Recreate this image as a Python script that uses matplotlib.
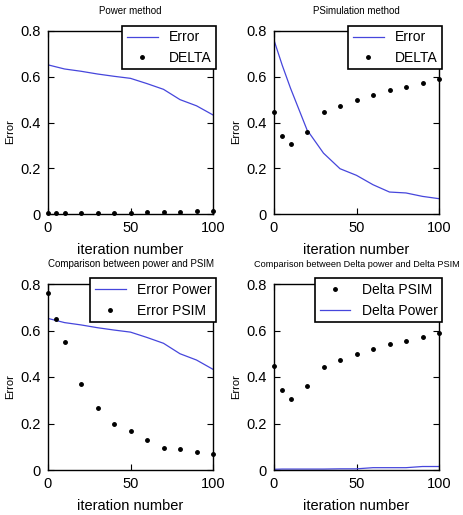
import matplotlib

matplotlib.use('Agg')
import matplotlib.pyplot as plt
from matplotlib.ticker import FuncFormatter

plt.rcParams['font.family'] = ['Liberation Sans Narrow', 'Liberation Sans', 'DejaVu Sans']

iters = [0, 5, 10, 20, 30, 40, 50, 60, 70, 80, 90, 100]
error_power = [0.652, 0.643, 0.634, 0.624, 0.612, 0.602, 0.593, 0.570, 0.545, 0.500, 0.473, 0.433]
delta_power = [0.003, 0.004, 0.004, 0.004, 0.004, 0.005, 0.005, 0.010, 0.010, 0.010, 0.015, 0.015]
error_psim = [0.760, 0.650, 0.550, 0.368, 0.266, 0.198, 0.169, 0.128, 0.096, 0.092, 0.077, 0.067]
delta_psim = [0.448, 0.342, 0.307, 0.360, 0.444, 0.473, 0.500, 0.522, 0.540, 0.554, 0.573, 0.589]

BLUE = '#4646dc'

fig = plt.figure(figsize=(4.63, 5.15), dpi=100)
W, H = 463, 515
boxes = [(48, 31, 213, 214), (274, 31, 439, 214),
         (48, 284, 213, 470), (274, 284, 439, 470)]
axes = []
for (l, t, r, b) in boxes:
    axes.append(fig.add_axes([l / W, 1 - b / H, (r - l) / W, (b - t) / H]))


def fmt(v, pos):
    if abs(v) < 1e-9:
        return '0'
    return f'{v:g}'


def style(ax, title, tsize=7):
    ax.set_xlim(0, 100)
    ax.set_ylim(0, 0.8)
    ax.set_xticks([0, 50, 100])
    ax.set_yticks([0, 0.2, 0.4, 0.6, 0.8])
    ax.yaxis.set_major_formatter(FuncFormatter(fmt))
    ax.tick_params(direction='in', top=True, right=True, labelsize=10.5,
                   length=4, width=0.8, pad=5)
    for s in ax.spines.values():
        s.set_linewidth(1.0)
    ax.set_title(title, fontsize=tsize, pad=12)
    ax.set_xlabel('iteration number', fontsize=10.5, labelpad=6)
    ax.set_ylabel('Error', fontsize=8)
    ax.yaxis.set_label_coords(-0.2, 0.45)


def legend(ax):
    lg = ax.legend(loc='upper right', fontsize=10, fancybox=False,
                   framealpha=1, borderaxespad=0, handlelength=2.2,
                   borderpad=0.35, labelspacing=0.45,
                   bbox_to_anchor=(1.02, 1.03))
    lg.get_frame().set_edgecolor('black')
    lg.get_frame().set_linewidth(1.2)


ax = axes[0]
ax.plot(iters, error_power, color=BLUE, lw=0.9, label='Error')
ax.plot(iters, delta_power, 'o', color='black', ms=2.5, label='DELTA', clip_on=False)
style(ax, 'Power method')
legend(ax)

ax = axes[1]
ax.plot(iters, error_psim, color=BLUE, lw=0.9, label='Error')
ax.plot(iters, delta_psim, 'o', color='black', ms=2.5, label='DELTA', clip_on=False)
style(ax, 'PSimulation method')
legend(ax)

ax = axes[2]
ax.plot(iters, error_power, color=BLUE, lw=0.9, label='Error Power')
ax.plot(iters, error_psim, 'o', color='black', ms=2.5, label='Error PSIM', clip_on=False)
style(ax, 'Comparison between power and PSIM')
legend(ax)

ax = axes[3]
ax.plot(iters, delta_psim, 'o', color='black', ms=2.5, label='Delta PSIM', clip_on=False)
ax.plot(iters, delta_power, color=BLUE, lw=0.9, label='Delta Power')
style(ax, 'Comparison between Delta power and Delta PSIM', tsize=6.6)
legend(ax)

fig.savefig('out.png', dpi=100)
